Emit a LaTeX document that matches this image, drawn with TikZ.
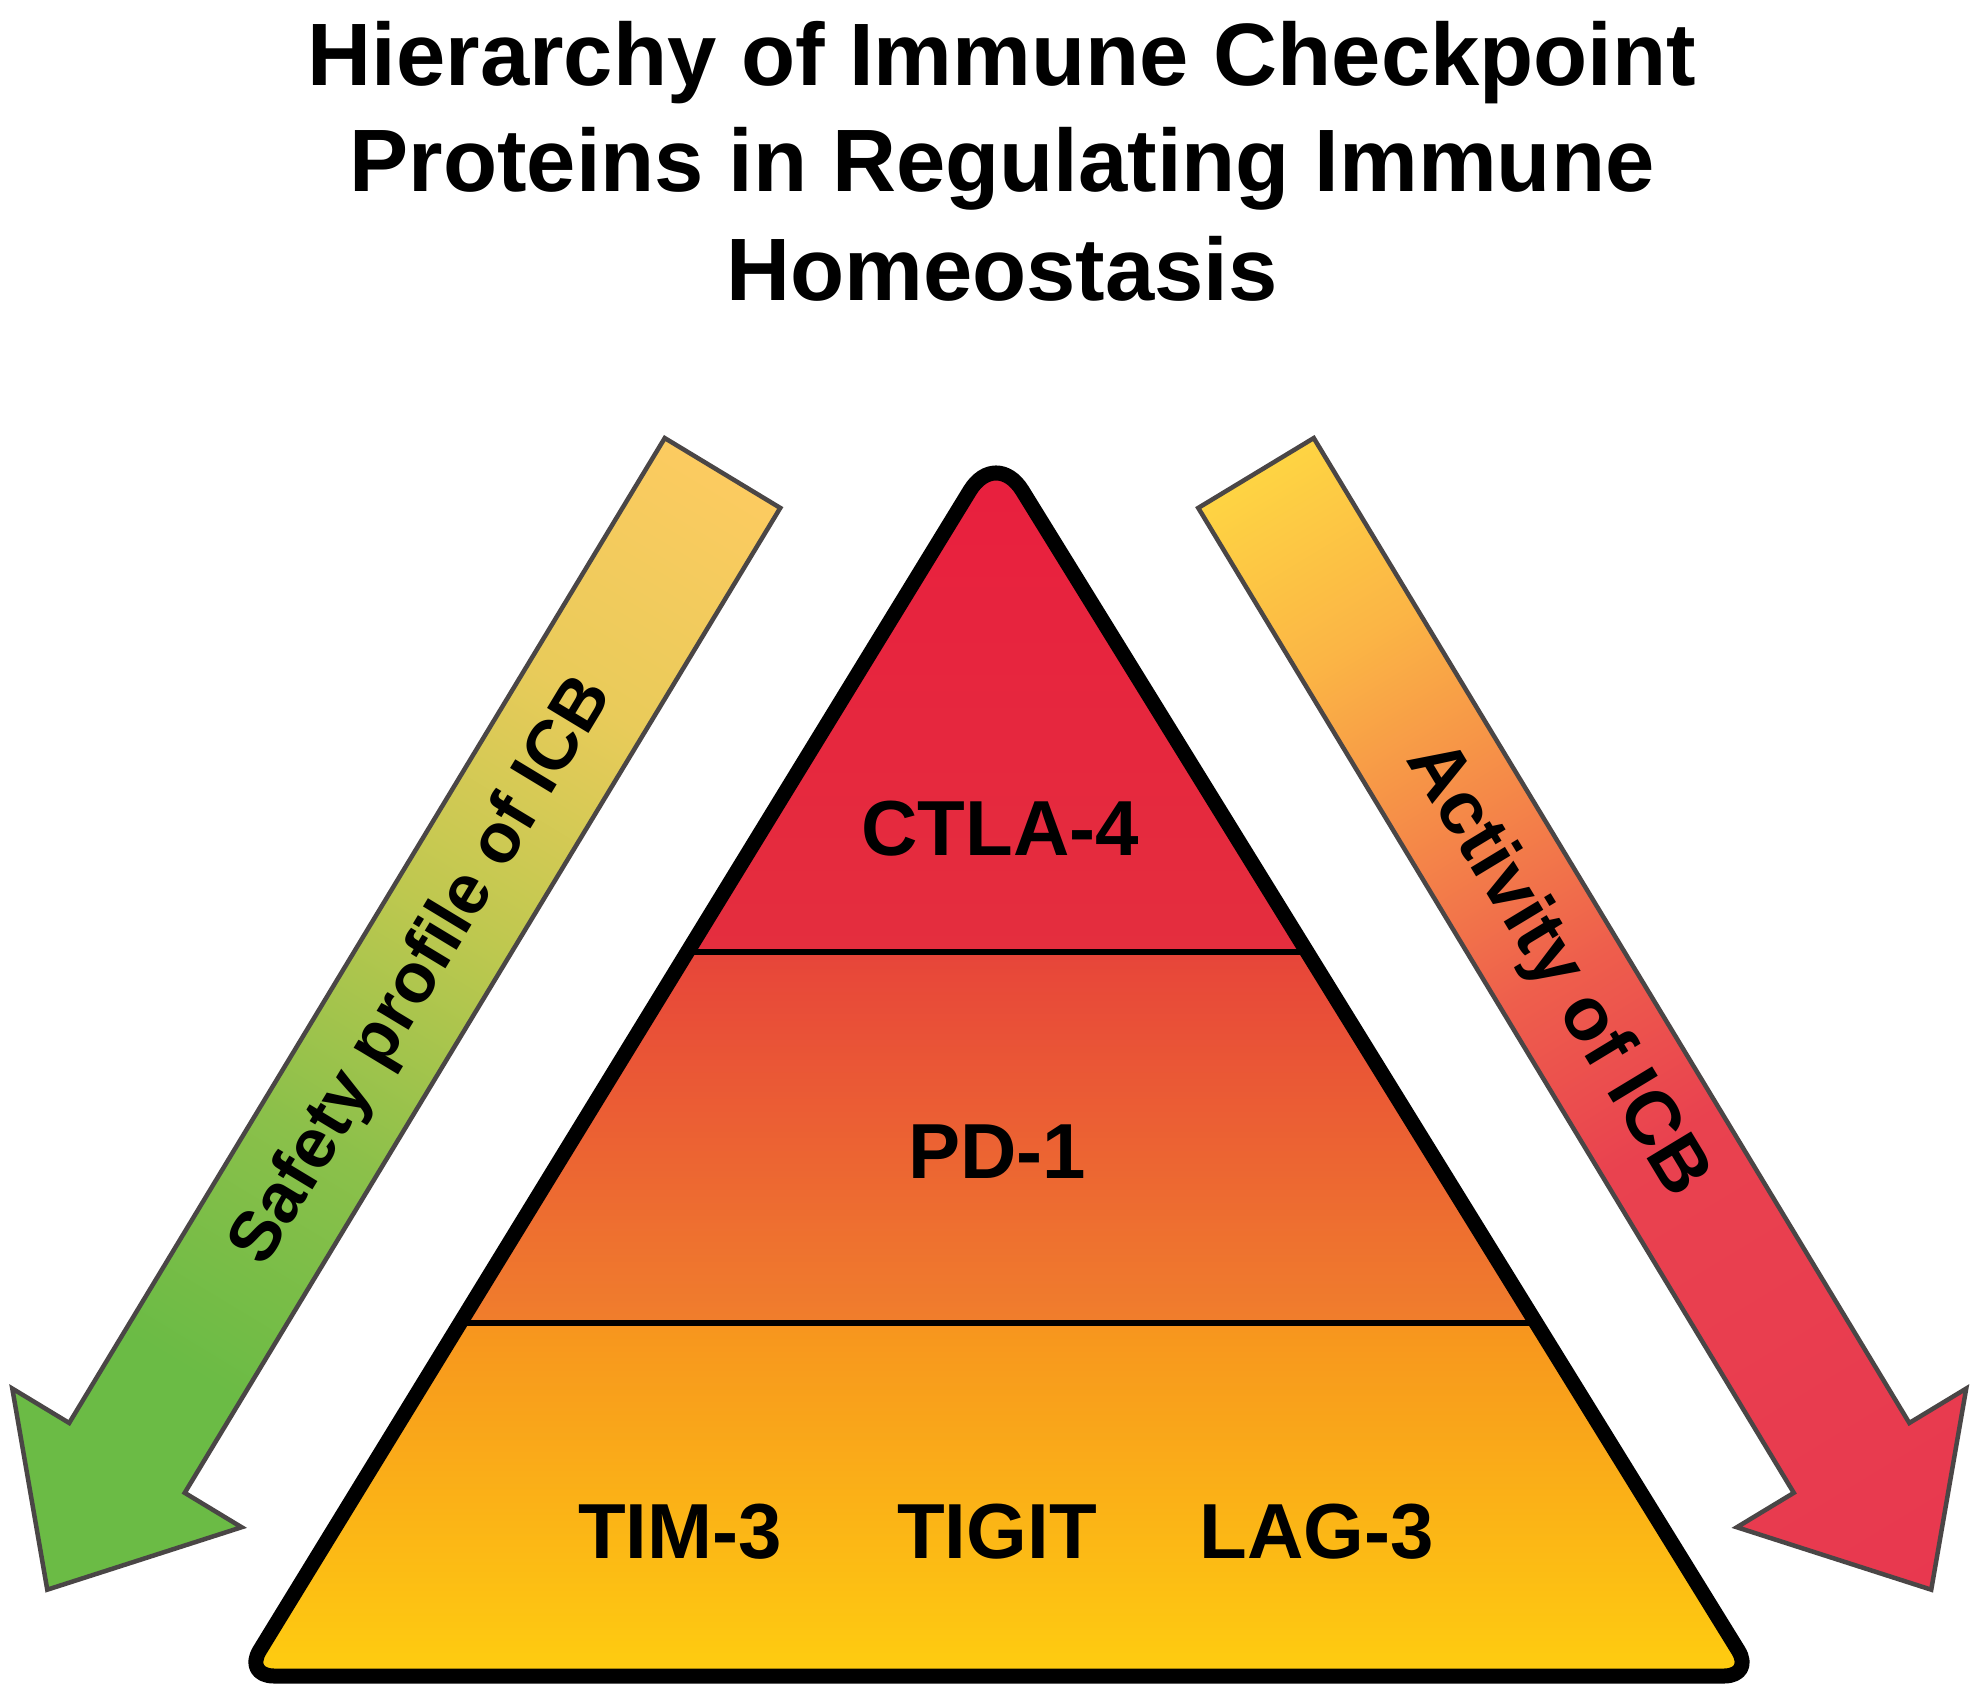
\documentclass[tikz,border=0pt]{standalone}
\usepackage{fontspec}
\setmainfont{Liberation Sans}
\usetikzlibrary{calc}
\definecolor{sA}{HTML}{FCCB60}
\definecolor{sB}{HTML}{E9CB5A}
\definecolor{sC}{HTML}{BEC84F}
\definecolor{sD}{HTML}{8BC04A}
\definecolor{sE}{HTML}{6BBB45}
\definecolor{aA}{HTML}{FED443}
\definecolor{aB}{HTML}{FBB545}
\definecolor{aC}{HTML}{F58A48}
\definecolor{aD}{HTML}{EE5E4C}
\definecolor{aE}{HTML}{E9424F}
\definecolor{aF}{HTML}{E8384F}
\definecolor{arrowgray}{HTML}{4A4646}
\definecolor{tOneTop}{HTML}{E91E3E}
\definecolor{tOneBot}{HTML}{E42E3E}
\definecolor{tTwoTop}{HTML}{E7453A}
\definecolor{tTwoBot}{HTML}{F07E2C}
\definecolor{tThreeTop}{HTML}{F7951E}
\definecolor{tThreeBot}{HTML}{FFD10F}
\pgfdeclarehorizontalshading{safetyshade}{100bp}{color(0bp)=(sA); color(25bp)=(sA); color(35bp)=(sB); color(45bp)=(sC); color(55bp)=(sD); color(65bp)=(sE); color(75bp)=(sE); color(100bp)=(sE)}
\pgfdeclarehorizontalshading{activityshade}{100bp}{color(0bp)=(aA); color(25bp)=(aA); color(32.5bp)=(aB); color(40bp)=(aC); color(47.5bp)=(aD); color(55bp)=(aE); color(75bp)=(aF); color(100bp)=(aF)}
\tikzset{
  titletext/.style={font=\fontsize{25.2}{30}\selectfont\bfseries, inner sep=0pt, anchor=base},
  tierlabel/.style={font=\fontsize{22.2}{26}\selectfont\bfseries, inner sep=0pt, anchor=base},
  safetylabel/.style={font=\fontsize{20}{24}\selectfont\bfseries, inner sep=0pt},
  activitylabel/.style={font=\fontsize{21.5}{25}\selectfont\bfseries, inner sep=0pt},
  arrowbody/.style={draw=arrowgray, line width=0.045cm, line join=miter},
  divider/.style={line width=0.06cm, draw=black},
  pyroutline/.style={line width=0.15cm, draw=black, line join=round},
}
\begin{document}
\begin{tikzpicture}[x=0.01cm, y=-0.01cm]
\useasboundingbox (0,0) rectangle (1982,1697);
\fill[white] (0,0) rectangle (1982,1697);

% title
\node[titletext] (title1) at (1002,86) {Hierarchy of Immune Checkpoint};
\node[titletext] (title2) at (1002,192) {Proteins in Regulating Immune};
\node[titletext] (title3) at (1002,300) {Homeostasis};

% left arrow
\begin{scope}[transform canvas={shift={(722.5,473)}, rotate=238.84}]
  \shadedraw[shading=safetyshade, arrowbody] (0,-67.5) -- (1151,-67.5) -- (1151,-134) -- (1305,0) -- (1151,134) -- (1151,67.5) -- (0,67.5) -- cycle;
\end{scope}
% right arrow
\begin{scope}[transform canvas={shift={(1256,473)}, rotate=-58.84}]
  \shadedraw[shading=activityshade, arrowbody] (0,-67.5) -- (1151,-67.5) -- (1151,-134) -- (1305,0) -- (1151,134) -- (1151,67.5) -- (0,67.5) -- cycle;
\end{scope}
\node[safetylabel, rotate=58.84] (safety) at (423,972) {Safety profile of ICB};
\node[activitylabel, rotate=-58.84] (activity) at (1556,970) {Activity of ICB};

% pyramid
\coordinate (apex) at (996,448);
\coordinate (br) at (1754,1676);
\coordinate (bl) at (244,1676);
\coordinate (bm) at (999,1676);
\begin{scope}
  \clip (bm) -- ($(br)!0.3cm!(bm)$) .. controls ($(br)!0.134cm!(bm)$) and ($(br)!0.134cm!(apex)$) .. ($(br)!0.3cm!(apex)$)
    -- ($(apex)!0.5cm!(br)$) .. controls ($(apex)!0.224cm!(br)$) and ($(apex)!0.224cm!(bl)$) .. ($(apex)!0.5cm!(bl)$)
    -- ($(bl)!0.3cm!(apex)$) .. controls ($(bl)!0.134cm!(apex)$) and ($(bl)!0.134cm!(bm)$) .. ($(bl)!0.3cm!(bm)$) -- cycle;
  \shade[top color=tOneTop, bottom color=tOneBot] (0,430) rectangle (1982,952);
  \shade[top color=tTwoTop, bottom color=tTwoBot] (0,952) rectangle (1982,1323);
  \shade[top color=tThreeTop, bottom color=tThreeBot] (0,1323) rectangle (1982,1700);
  \draw[divider] (0,952) -- (1982,952);
  \draw[divider] (0,1323) -- (1982,1323);
\end{scope}
\draw[pyroutline] (bm) -- ($(br)!0.3cm!(bm)$) .. controls ($(br)!0.134cm!(bm)$) and ($(br)!0.134cm!(apex)$) .. ($(br)!0.3cm!(apex)$)
    -- ($(apex)!0.5cm!(br)$) .. controls ($(apex)!0.224cm!(br)$) and ($(apex)!0.224cm!(bl)$) .. ($(apex)!0.5cm!(bl)$)
    -- ($(bl)!0.3cm!(apex)$) .. controls ($(bl)!0.134cm!(apex)$) and ($(bl)!0.134cm!(bm)$) .. ($(bl)!0.3cm!(bm)$) -- cycle;

\node[tierlabel] (ctla) at (1000,855) {CTLA-4};
\node[tierlabel] (pd) at (997,1178) {PD-1};
\node[tierlabel] (tim) at (680,1558) {TIM-3};
\node[tierlabel] (tigit) at (997,1558) {TIGIT};
\node[tierlabel] (lag) at (1317,1558) {LAG-3};
\end{tikzpicture}
\end{document}
